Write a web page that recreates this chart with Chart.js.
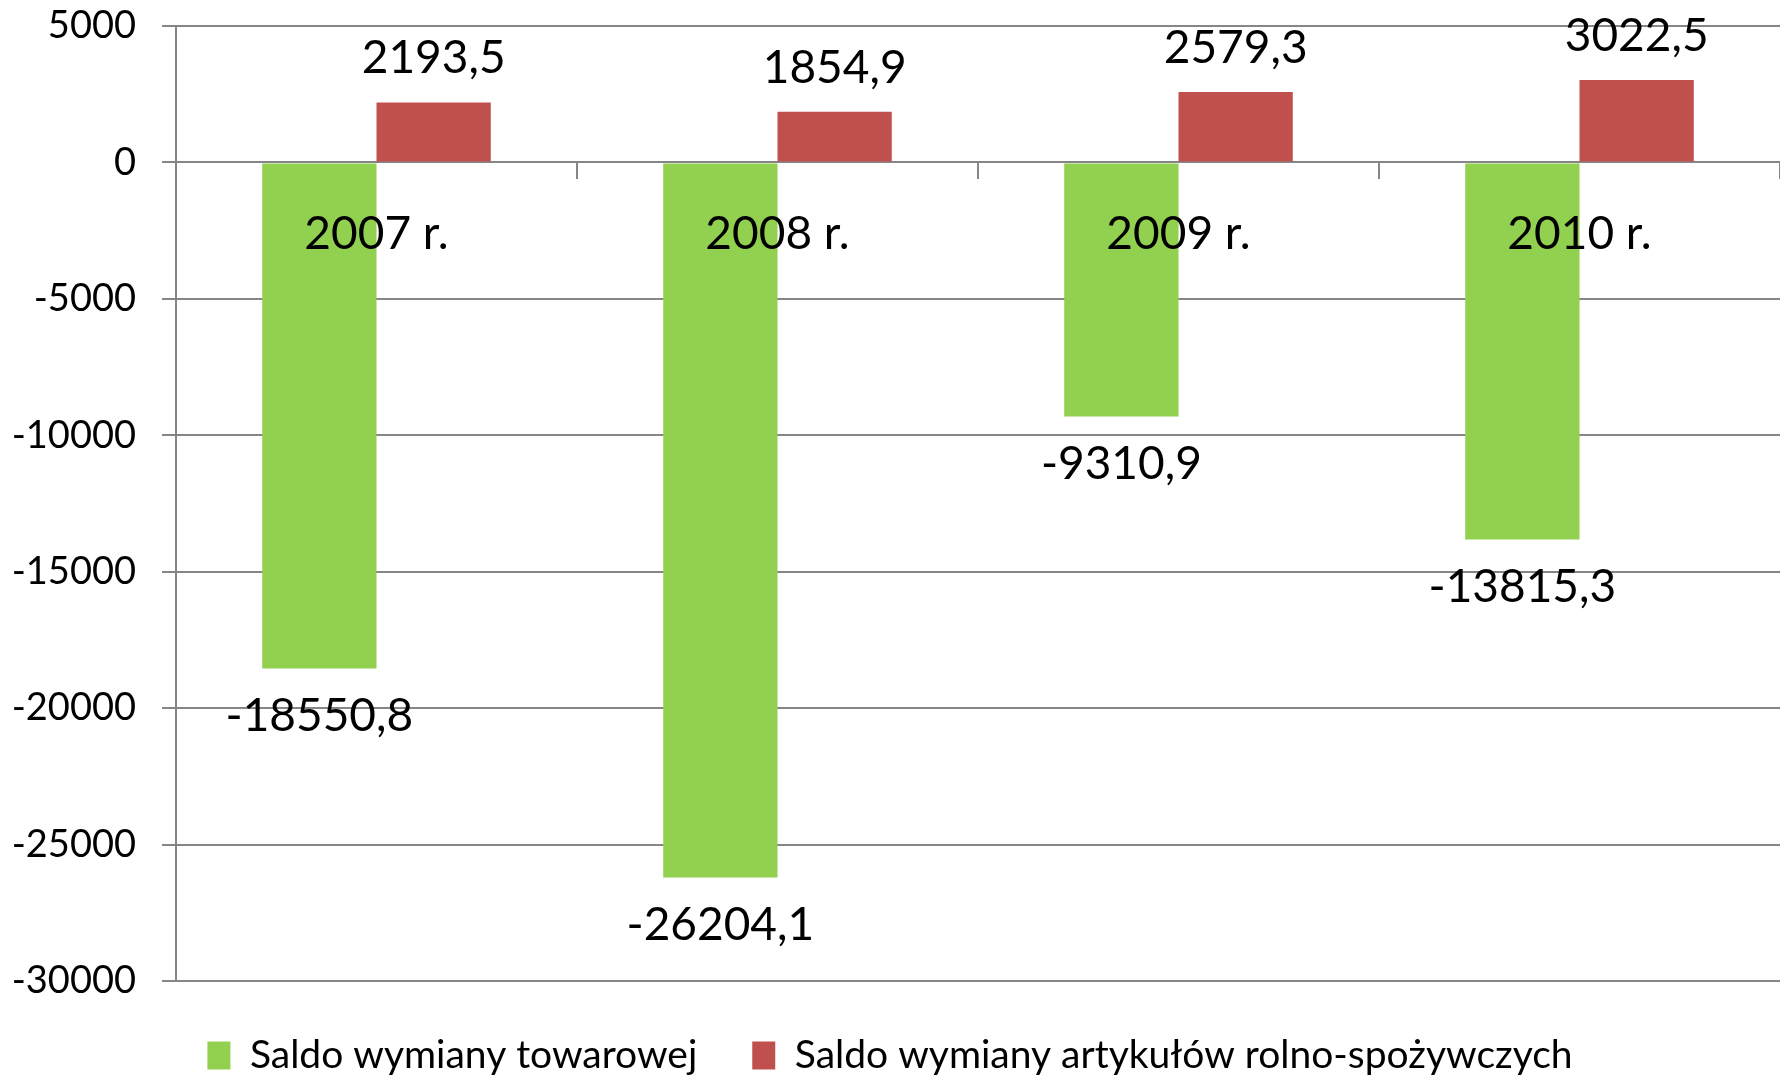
<!DOCTYPE html>
<html>
<head>
<meta charset="utf-8">
<script src="https://cdn.jsdelivr.net/npm/chart.js@4.4.0/dist/chart.umd.min.js"></script>
<style>
    html, body { margin: 0; padding: 0; background: #fff; overflow: hidden; }
    #wrap { width: 1780px; height: 1085px; position: relative; }
</style>
</head>
<body>
<div id="wrap"><canvas id="myChart"></canvas></div>
<script>
const years = ['2007 r.', '2008 r.', '2009 r.', '2010 r.'];
const saldoTowarowe = [-18550.8, -26204.1, -9310.9, -13815.3];
const saldoRolnoSpozywcze = [2193.5, 1854.9, 2579.3, 3022.5];
const seriesNames = ['Saldo wymiany towarowej', 'Saldo wymiany artykułów rolno-spożywczych'];
const yMin = -30000;
const yMax = 5000;
const yStep = 5000;

const FONT = 'Lato';
const GRID = '#868686';

// value labels above / below each bar
const valueLabels = {
    id: 'valueLabels',
    afterDatasetsDraw(chart) {
        const ctx = chart.ctx;
        ctx.save();
        ctx.font = '46px ' + FONT;
        ctx.fillStyle = '#000';
        ctx.textAlign = 'center';
        ctx.textBaseline = 'middle';
        chart.data.datasets.forEach((ds, i) => {
            chart.getDatasetMeta(i).data.forEach((bar, j) => {
                const v = ds.data[j];
                const y = v >= 0 ? bar.y - 44 : bar.y + 48;
                ctx.fillText(v.toFixed(1).replace('.', ','), bar.x, y);
            });
        });
        ctx.restore();
    }
};

const myChart = document.getElementById('myChart').getContext('2d');

new Chart(myChart, {
    type: 'bar',
    data: {
        labels: years,
        datasets: [{
            label: seriesNames[0],
            data: saldoTowarowe,
            backgroundColor: '#92D050',
        }, {
            label: seriesNames[1],
            data: saldoRolnoSpozywcze,
            backgroundColor: '#C0504D',
        }]
    },
    options: {
        responsive: true,
        maintainAspectRatio: false,
        animation: false,
        layout: { padding: 0 },
        datasets: {
            bar: { categoryPercentage: 0.57, barPercentage: 1.0 }
        },
        scales: {
            x: {
                position: { y: 0 },
                offset: true,
                grid: { offset: true, drawOnChartArea: false, tickLength: 16, color: GRID, lineWidth: 2 },
                border: { color: GRID, width: 2 },
                ticks: { z: 1, color: '#000', font: { size: 46, family: FONT }, padding: 28, maxRotation: 0 }
            },
            y: {
                min: yMin,
                max: yMax,
                ticks: {
                    stepSize: yStep,
                    color: '#000',
                    font: { size: 38, family: FONT },
                    padding: 26,
                    callback: v => String(v)
                },
                grid: { color: GRID, lineWidth: 2, tickLength: 14 },
                border: { color: GRID, width: 2 },
                afterFit(scale) {
                    scale.width = 176;
                    scale.paddingTop = 26;
                    scale.paddingBottom = 0;
                }
            }
        },
        plugins: {
            legend: {
                position: 'bottom',
                labels: {
                    color: '#000',
                    font: { size: 39, family: FONT },
                    boxWidth: 23,
                    boxHeight: 28,
                    padding: 55
                }
            },
            tooltip: { enabled: false }
        }
    },
    plugins: [valueLabels]
});
</script>
</body>
</html>
